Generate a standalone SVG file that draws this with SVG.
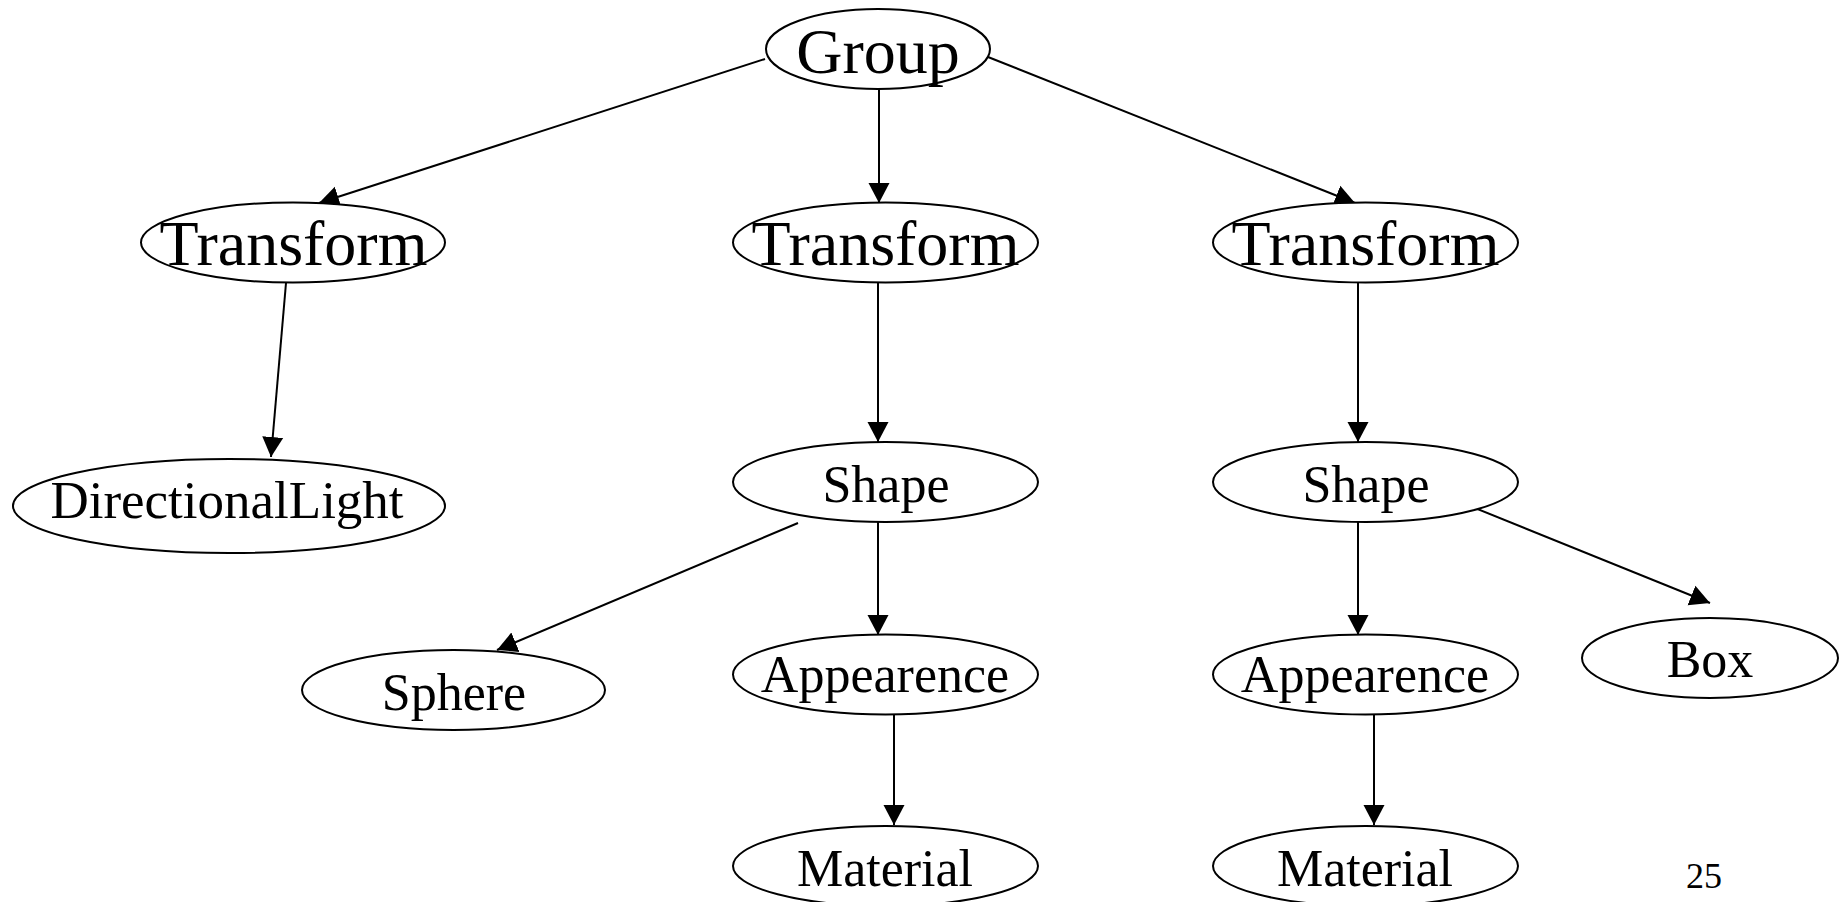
<svg xmlns="http://www.w3.org/2000/svg" width="1840" height="902" viewBox="0 0 1840 902">
<style>
.node ellipse{fill:#fff;stroke:#000;stroke-width:2}
.node text{font-family:"Liberation Serif","Times New Roman",serif;fill:#000;text-anchor:middle}
.big{font-size:64px}
.mid{font-size:52px}
.edge{stroke:#000;stroke-width:2;fill:none;marker-end:url(#arr)}
.pg{font-family:"Liberation Serif","Times New Roman",serif;font-size:36px;fill:#000;text-anchor:middle}
</style>
<defs>
<marker id="arr" viewBox="0 -12 22 24" markerWidth="22" markerHeight="24" refX="20" refY="0" markerUnits="userSpaceOnUse" orient="auto">
<path d="M0,-10.5 L20,0 L0,10.5 z" fill="#000"/>
</marker>
</defs>
<rect width="1840" height="902" fill="#fff"/>
<g id="connectors">
<line class="edge" x1="765" y1="59" x2="319" y2="203"/>
<line class="edge" x1="879" y1="89" x2="879" y2="203"/>
<line class="edge" x1="988" y1="57" x2="1355" y2="203"/>
<line class="edge" x1="286" y1="283" x2="271" y2="457"/>
<line class="edge" x1="878" y1="282" x2="878" y2="442"/>
<line class="edge" x1="1358" y1="282" x2="1358" y2="442"/>
<line class="edge" x1="798" y1="523" x2="497" y2="650"/>
<line class="edge" x1="878" y1="522" x2="878" y2="635"/>
<line class="edge" x1="1358" y1="522" x2="1358" y2="635"/>
<line class="edge" x1="1470" y1="506" x2="1710" y2="603"/>
<line class="edge" x1="894" y1="714" x2="894" y2="825"/>
<line class="edge" x1="1374" y1="714" x2="1374" y2="825"/>
</g>
<g id="group" class="node"><ellipse cx="878" cy="49" rx="112" ry="40"/><text class="big" x="878" y="73">Group</text></g>
<g id="transform1" class="node"><ellipse cx="293" cy="242.5" rx="152" ry="40"/><text class="big" x="293.5" y="265">Transform</text></g>
<g id="transform2" class="node"><ellipse cx="885.5" cy="242.5" rx="152.5" ry="40"/><text class="big" x="885.5" y="265">Transform</text></g>
<g id="transform3" class="node"><ellipse cx="1365.5" cy="242.5" rx="152.5" ry="40"/><text class="big" x="1365.5" y="265">Transform</text></g>
<g id="directionallight" class="node"><ellipse cx="229" cy="506" rx="216" ry="47"/><text x="227" y="518" style="font-size:53px">DirectionalLight</text></g>
<g id="shape2" class="node"><ellipse cx="885.5" cy="482" rx="152.5" ry="40"/><text class="mid" x="886" y="502">Shape</text></g>
<g id="shape3" class="node"><ellipse cx="1365.5" cy="482" rx="152.5" ry="40"/><text class="mid" x="1366" y="502">Shape</text></g>
<g id="sphere" class="node"><ellipse cx="453.5" cy="690" rx="151.5" ry="40"/><text class="mid" x="454" y="710">Sphere</text></g>
<g id="appearence2" class="node"><ellipse cx="885.5" cy="674.5" rx="152.5" ry="40"/><text class="mid" x="885" y="692">Appearence</text></g>
<g id="appearence3" class="node"><ellipse cx="1365.5" cy="674.5" rx="152.5" ry="40"/><text class="mid" x="1365" y="692">Appearence</text></g>
<g id="box" class="node"><ellipse cx="1710" cy="658" rx="128" ry="40"/><text class="mid" x="1710" y="677">Box</text></g>
<g id="material2" class="node"><ellipse cx="885.5" cy="866" rx="152.5" ry="40"/><text class="mid" x="885" y="886">Material</text></g>
<g id="material3" class="node"><ellipse cx="1365.5" cy="866" rx="152.5" ry="40"/><text class="mid" x="1365" y="886">Material</text></g>
<text class="pg" x="1704" y="888">25</text>
</svg>
